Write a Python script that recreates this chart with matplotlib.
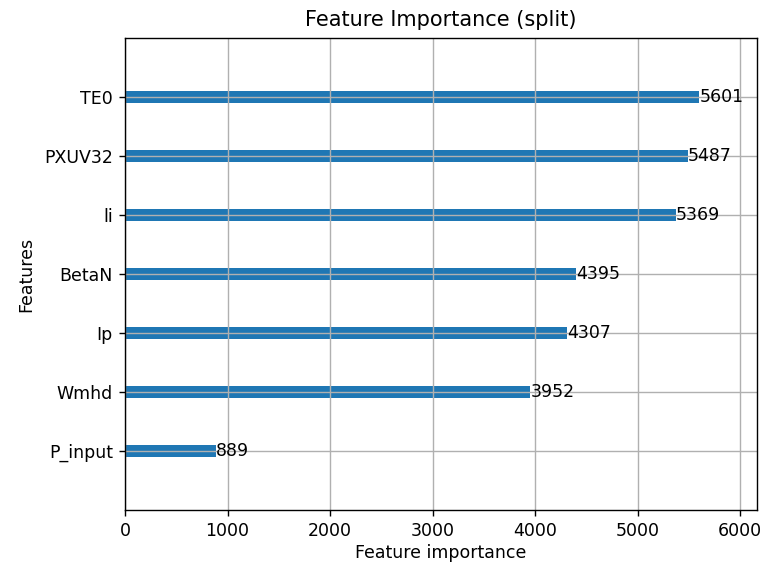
import matplotlib
matplotlib.use('Agg')
import matplotlib.pyplot as plt

# split counts per feature, bottom row first
features = ['P_input', 'Wmhd', 'Ip', 'BetaN', 'li', 'PXUV32', 'TE0']
importance = [889, 3952, 4307, 4395, 5369, 5487, 5601]

DPI = 125


def main():
    fig = plt.figure(figsize=(764 / DPI, 563 / DPI), dpi=DPI)
    ax = fig.add_axes([0.1636, 0.0941, 0.827, 0.8384])

    ylocs = list(range(len(features)))
    ax.barh(ylocs, importance, align='center', height=0.2)
    for x, y in zip(importance, ylocs):
        ax.text(x + 1, y, str(x), va='center')

    ax.set_yticks(ylocs)
    ax.set_yticklabels(features)
    ax.set_xlim(0, max(importance) * 1.1)
    ax.set_ylim(-1, len(features))
    ax.grid(True)

    ax.set_title('Feature Importance (split)', pad=7)
    ax.set_xlabel('Feature importance', labelpad=2)
    ax.set_ylabel('Features', labelpad=5)

    fig.savefig('out.png', dpi=DPI)


if __name__ == "__main__":
    main()
